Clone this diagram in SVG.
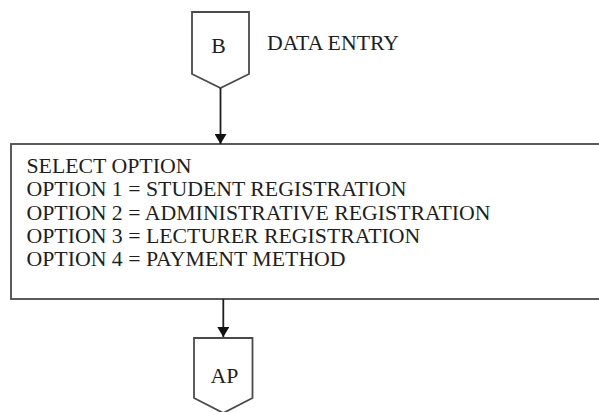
<svg xmlns="http://www.w3.org/2000/svg" width="599" height="412" viewBox="0 0 599 412">
  <style>
    .shape { fill: #ffffff; stroke: #4a4a4a; stroke-width: 1.8; }
    .txt { font-family: "Liberation Serif", "Times New Roman", serif; font-size: 21.8px; fill: #1e1e1e; }
    .wire { stroke: #1e1e1e; stroke-width: 1.8; fill: none; }
  </style>
  <defs>
    <marker id="arrow" viewBox="0 0 10 12" refX="10" refY="6" markerWidth="10" markerHeight="12" markerUnits="userSpaceOnUse" orient="auto">
      <path d="M0,0 L10,6 L0,12 Z" fill="#111111"/>
    </marker>
  </defs>
  <rect width="599" height="412" fill="#ffffff"/>

  <!-- off-page connector B -->
  <g id="node-b">
    <path class="shape" d="M192,12 L249,12 L249,74 L220.5,88 L192,74 Z"/>
    <text class="txt" x="218.5" y="53" text-anchor="middle">B</text>
  </g>

  <!-- caption beside B -->
  <g id="label-data-entry">
    <text class="txt" x="267" y="50">DATA ENTRY</text>
  </g>

  <!-- selection menu -->
  <g id="node-select">
    <rect class="shape" x="11" y="144" width="600" height="155"/>
    <text class="txt" x="26.5" y="173">SELECT OPTION</text>
    <text class="txt" x="26.5" y="196.3">OPTION 1 = STUDENT REGISTRATION</text>
    <text class="txt" x="26.5" y="219.6">OPTION 2 = ADMINISTRATIVE REGISTRATION</text>
    <text class="txt" x="26.5" y="242.9">OPTION 3 = LECTURER REGISTRATION</text>
    <text class="txt" x="26.5" y="266.2">OPTION 4 = PAYMENT METHOD</text>
  </g>

  <!-- off-page connector AP -->
  <g id="node-ap">
    <path class="shape" d="M194,338 L252.5,338 L252.5,398 L223.3,413 L194,398 Z"/>
    <text class="txt" x="224.5" y="383" text-anchor="middle">AP</text>
  </g>

  <!-- connectors -->
  <g id="connectors">
    <line class="wire" x1="220.5" y1="88" x2="220.5" y2="144" marker-end="url(#arrow)"/>
    <line class="wire" x1="223.3" y1="299" x2="223.3" y2="337" marker-end="url(#arrow)"/>
  </g>
</svg>
